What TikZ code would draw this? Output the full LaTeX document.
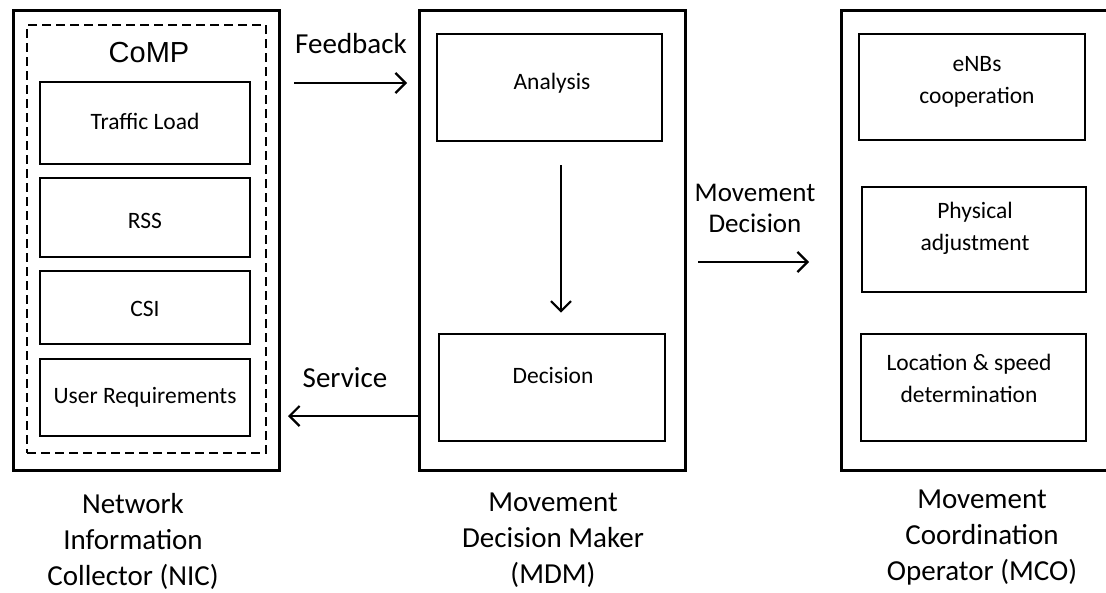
\documentclass[tikz,border=0pt]{standalone}
\usepackage{fontspec}
\setmainfont{Carlito}
\newfontfamily\arialfont{Liberation Sans}
\usetikzlibrary{arrows.meta}
\begin{document}
\begin{tikzpicture}[x=1pt,y=-1pt,
 outer/.style={draw, line width=3pt, rectangle, inner sep=0pt},
 innerbox/.style={draw, line width=2.6pt, rectangle, inner sep=0pt},
 dashbox/.style={draw, line width=2.4pt, rectangle, inner sep=0pt, dash pattern=on 9pt off 5pt},
 small/.style={font=\fontsize{23.5}{32}\selectfont, align=center, inner sep=0pt},
 big/.style={font=\fontsize{29}{36}\selectfont, align=center, inner sep=0pt},
 mid/.style={font=\fontsize{27}{31}\selectfont, align=center, inner sep=0pt},
 conn/.style={line width=2.2pt, -{Straight Barb[length=10pt,width=20pt,line width=2.2pt]}}]
\useasboundingbox (0,0) rectangle (1106,592);
% NIC
\node[outer, minimum width=266pt, minimum height=460pt] (nic) at (146.5,240.5) {};
\node[dashbox, minimum width=239pt, minimum height=428pt] (comp) at (146.5,239) {};
\node[inner sep=0pt, font=\arialfont\fontsize{29}{34}\selectfont] (comptxt) at (149,53) {CoMP};
\node[innerbox, minimum width=210pt, minimum height=82pt] (tl) at (145,123) {};
\node[small] (tltxt) at (145,121) {Traffic Load};
\node[innerbox, minimum width=210pt, minimum height=79pt] (rss) at (145,217.5) {};
\node[small] (rsstxt) at (145,221) {RSS};
\node[innerbox, minimum width=210pt, minimum height=73pt] (csi) at (145,307.5) {};
\node[small] (csitxt) at (145,309) {CSI};
\node[innerbox, minimum width=210pt, minimum height=77pt] (ur) at (145,397.5) {};
\node[small] (urtxt) at (145,397) {User Requirements};
% MDM
\node[outer, minimum width=266pt, minimum height=460pt] (mdm) at (552.5,240.5) {};
\node[innerbox, minimum width=225pt, minimum height=107pt] (ana) at (549.5,87.5) {};
\node[small] (anatxt) at (552,83) {Analysis};
\node[innerbox, minimum width=226pt, minimum height=107pt] (dec) at (552,387.5) {};
\node[small] (dectxt) at (553,375) {Decision};
% MCO
\node[outer, minimum width=280pt, minimum height=460pt] (mco) at (981.5,240.5) {};
\node[innerbox, minimum width=226pt, minimum height=106pt] (enb) at (972,87) {};
\node[small] (enbtxt) at (977,81.5) {eNBs\\cooperation};
\node[innerbox, minimum width=224pt, minimum height=105pt] (phy) at (974,239.5) {};
\node[small] (phytxt) at (975,228.5) {Physical\\adjustment};
\node[innerbox, minimum width=225pt, minimum height=107pt] (loc) at (973.5,387.5) {};
\node[small] (loctxt) at (969,378.5) {Location \& speed\\determination};
% connectors
\draw[conn, shorten <=13pt, shorten >=11pt] (nic.east |- 0,83) -- (mdm.west |- 0,83);
\draw[conn, shorten <=0pt, shorten >=7pt] (mdm.west |- 0,416) -- (nic.east |- 0,416);
\draw[conn, shorten <=11pt, shorten >=31pt] (mdm.east |- 0,262) -- (mco.west |- 0,262);
\draw[conn, shorten <=23pt, shorten >=20pt] ([xshift=11.5pt]ana.south) -- (dec.north -| 561,0);
% labels
\node[big] (fb) at (351,44) {Feedback};
\node[big] (sv) at (345,378) {Service};
\node[mid] (md) at (755,208) {Movement\\Decision};
\node[big] (niclbl) at (133,541) {Network\\Information\\Collector (NIC)};
\node[big] (mdmlbl) at (553,540) {Movement\\Decision Maker\\(MDM)};
\node[big] (mcolbl) at (982,538) {Movement\\Coordination\\Operator (MCO)};
\end{tikzpicture}
\end{document}
